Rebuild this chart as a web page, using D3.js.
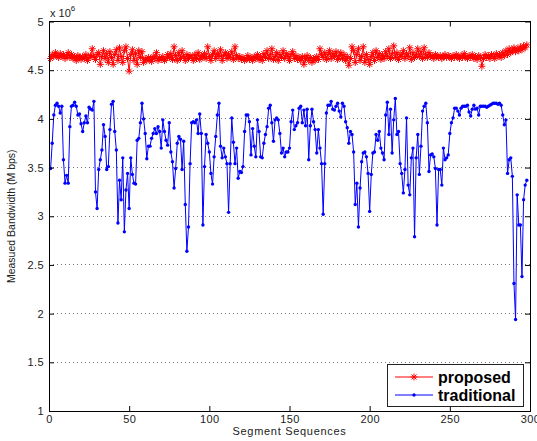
<!DOCTYPE html>
<html>
<head>
<meta charset="utf-8">
<script src="https://cdn.jsdelivr.net/npm/d3@7"></script>
<style>
  body { margin: 0; background: #fff; }
  text { font-family: "Liberation Sans", Arial, sans-serif; }
</style>
</head>
<body>
<div id="chart"></div>
<script>
// values, in units of 10^6 bps, segment 1..298
var proposed = [
  4.62, 4.66, 4.64, 4.68, 4.65, 4.63, 4.67, 4.64, 4.66, 4.62,
  4.65, 4.68, 4.63, 4.66, 4.62, 4.64, 4.60, 4.65, 4.63, 4.61,
  4.64, 4.62, 4.66, 4.60, 4.63, 4.65, 4.72, 4.64, 4.61, 4.66,
  4.68, 4.56, 4.64, 4.70, 4.62, 4.67, 4.58, 4.69, 4.63, 4.56,
  4.66, 4.71, 4.60, 4.73, 4.64, 4.58, 4.70, 4.74, 4.62, 4.49,
  4.66, 4.71, 4.60, 4.67, 4.56, 4.70, 4.63, 4.69, 4.58, 4.62,
  4.60, 4.63, 4.61, 4.59, 4.64, 4.62, 4.68, 4.60, 4.63, 4.61,
  4.64, 4.60, 4.62, 4.66, 4.63, 4.67, 4.61, 4.74, 4.65, 4.60,
  4.68, 4.62, 4.70, 4.64, 4.60, 4.66, 4.62, 4.65, 4.63, 4.60,
  4.66, 4.62, 4.68, 4.61, 4.65, 4.63, 4.67, 4.62, 4.74, 4.64,
  4.60, 4.66, 4.70, 4.62, 4.67, 4.64, 4.71, 4.60, 4.65, 4.68,
  4.62, 4.66, 4.63, 4.69, 4.61, 4.74, 4.65, 4.62, 4.64, 4.61,
  4.63, 4.60, 4.62, 4.65, 4.61, 4.63, 4.60, 4.64, 4.62, 4.66,
  4.61, 4.64, 4.60, 4.67, 4.63, 4.70, 4.62, 4.66, 4.72, 4.61,
  4.64, 4.68, 4.60, 4.66, 4.63, 4.70, 4.62, 4.67, 4.64, 4.60,
  4.66, 4.69, 4.62, 4.65, 4.61, 4.63, 4.60, 4.64, 4.56, 4.62,
  4.65, 4.60, 4.63, 4.58, 4.62, 4.60, 4.64, 4.61, 4.72, 4.66,
  4.63, 4.68, 4.61, 4.66, 4.70, 4.62, 4.67, 4.64, 4.69, 4.61,
  4.65, 4.68, 4.62, 4.66, 4.60, 4.64, 4.55, 4.62, 4.74, 4.70,
  4.58, 4.66, 4.72, 4.60, 4.64, 4.74, 4.58, 4.66, 4.61, 4.56,
  4.64, 4.68, 4.60, 4.70, 4.63, 4.67, 4.61, 4.65, 4.62, 4.69,
  4.64, 4.72, 4.62, 4.67, 4.75, 4.63, 4.68, 4.61, 4.66, 4.64,
  4.70, 4.62, 4.67, 4.64, 4.73, 4.61, 4.68, 4.63, 4.66, 4.72,
  4.64, 4.69, 4.62, 4.73, 4.66, 4.63, 4.68, 4.64, 4.65, 4.62,
  4.66, 4.64, 4.63, 4.65, 4.62, 4.64, 4.66, 4.63, 4.65, 4.64,
  4.62, 4.65, 4.63, 4.66, 4.64, 4.62, 4.65, 4.63, 4.67, 4.64,
  4.62, 4.65, 4.63, 4.66, 4.62, 4.64, 4.61, 4.65, 4.63, 4.54,
  4.62, 4.66, 4.63, 4.65, 4.62, 4.66, 4.64, 4.62, 4.67, 4.64,
  4.66, 4.63, 4.68, 4.65, 4.70, 4.66, 4.72, 4.68, 4.70, 4.73,
  4.69, 4.72, 4.70, 4.74, 4.71, 4.75, 4.73, 4.76
];

var traditional = [
  3.49, 3.75, 4.04, 4.14, 4.16, 4.13, 4.06, 4.13, 3.58, 3.34,
  3.42, 3.34, 3.92, 4.13, 4.14, 4.17, 4.13, 4.04, 4.05, 3.95,
  3.87, 3.96, 4.03, 3.96, 4.12, 4.10, 4.09, 4.18, 3.25, 3.08,
  3.48, 3.58, 3.68, 3.94, 3.82, 3.48, 3.51, 3.89, 4.15, 4.18,
  3.87, 3.68, 2.93, 3.37, 3.17, 3.60, 2.84, 3.27, 3.44, 3.08,
  3.60, 3.43, 3.34, 3.33, 3.78, 3.80, 3.96, 4.16, 4.00, 3.85,
  3.59, 3.72, 3.72, 3.80, 3.85, 3.90, 3.85, 3.92, 3.87, 3.70,
  3.99, 3.87, 3.78, 3.73, 3.96, 3.66, 3.56, 3.29, 3.49, 3.75,
  3.82, 3.79, 3.48, 3.77, 3.12, 2.64, 2.89, 3.54, 3.96, 3.97,
  3.96, 3.99, 3.85, 4.05, 3.85, 2.91, 3.51, 3.84, 3.75, 3.66,
  3.44, 3.33, 3.61, 3.82, 4.04, 4.16, 3.72, 3.60, 3.70, 3.61,
  3.54, 3.04, 3.54, 4.01, 3.76, 3.54, 3.70, 3.39, 3.46, 3.45,
  3.51, 3.87, 4.04, 4.04, 3.97, 3.63, 3.90, 3.72, 3.61, 3.99,
  3.87, 3.61, 3.60, 3.75, 3.84, 3.92, 4.11, 4.14, 3.96, 3.77,
  3.99, 4.01, 3.99, 3.85, 3.65, 3.70, 3.61, 3.66, 3.66, 3.70,
  3.97, 4.09, 3.89, 3.93, 3.96, 4.11, 4.13, 3.96, 4.09, 3.93,
  4.10, 3.58, 3.93, 4.10, 3.97, 3.89, 3.65, 3.89, 3.70, 3.54,
  3.02, 3.54, 4.06, 4.14, 4.14, 4.18, 4.10, 4.09, 4.13, 4.16,
  4.08, 4.02, 4.16, 4.13, 3.97, 3.91, 3.75, 3.87, 3.84, 3.66,
  3.12, 3.34, 2.89, 3.29, 3.56, 3.65, 3.66, 3.61, 3.44, 3.05,
  3.43, 3.65, 3.66, 3.84, 3.78, 3.87, 3.70, 3.65, 3.58, 4.04,
  4.17, 3.84, 4.10, 3.65, 3.99, 4.21, 3.84, 3.87, 3.54, 3.44,
  3.24, 3.48, 4.01, 3.32, 3.22, 3.60, 3.70, 2.79, 3.60, 3.84,
  3.43, 3.72, 4.08, 4.13, 4.16, 3.96, 3.46, 3.63, 3.64, 3.61,
  3.49, 2.91, 3.48, 3.48, 3.32, 3.70, 3.58, 3.60, 3.63, 3.85,
  3.96, 4.01, 4.11, 4.11, 4.08, 4.04, 4.11, 4.13, 4.13, 4.13,
  4.14, 4.07, 4.03, 4.10, 4.14, 4.10, 4.11, 4.04, 4.13, 4.13,
  4.13, 4.13, 4.12, 4.13, 4.14, 4.15, 4.16, 4.16, 4.16, 4.15,
  4.16, 4.14, 4.04, 3.94, 3.99, 3.44, 3.58, 3.60, 3.41, 2.31,
  1.94, 3.22, 2.91, 2.91, 2.38, 3.17, 3.32, 3.37
];

var xTicks = [0, 50, 100, 150, 200, 250, 300];
var yTicks = [1, 1.5, 2, 2.5, 3, 3.5, 4, 4.5, 5];
var seriesNames = ['proposed', 'traditional'];
var seriesColors = ['#ff0000', '#0000ff'];

var width = 537, height = 441;
var margin = {top: 21.5, right: 7, bottom: 30, left: 49};

var svg = d3.select('#chart').append('svg')
    .attr('width', width)
    .attr('height', height);

var x = d3.scaleLinear().domain([0, 300]).range([margin.left, width - margin.right]);
var y = d3.scaleLinear().domain([1, 5]).range([height - margin.bottom, margin.top]);

// dotted horizontal grid (matlab "grid" look, y only)
svg.append('g').selectAll('line')
    .data(yTicks.slice(1, -1))
    .enter().append('line')
    .attr('x1', x(0)).attr('x2', x(300))
    .attr('y1', d => y(d)).attr('y2', d => y(d))
    .attr('stroke', '#7a7a7a')
    .attr('stroke-width', 1)
    .attr('stroke-dasharray', '1,3')
    .attr('shape-rendering', 'crispEdges');

var line = d3.line()
    .x((d, i) => x(i + 1))
    .y(d => y(d));

// proposed : red line with '*' markers
svg.append('path')
    .datum(proposed)
    .attr('d', line)
    .attr('fill', 'none')
    .attr('stroke', seriesColors[0])
    .attr('stroke-width', 1);

var star = 'M-3.5,0H3.5M0,-3.5V3.5M-2.5,-2.5L2.5,2.5M-2.5,2.5L2.5,-2.5';
svg.append('g').selectAll('path')
    .data(proposed)
    .enter().append('path')
    .attr('transform', (d, i) => 'translate(' + x(i + 1) + ',' + y(d) + ')')
    .attr('d', star)
    .attr('stroke', seriesColors[0])
    .attr('stroke-width', 1)
    .attr('fill', 'none');

// traditional : blue line with '.' markers
svg.append('path')
    .datum(traditional)
    .attr('d', line)
    .attr('fill', 'none')
    .attr('stroke', seriesColors[1])
    .attr('stroke-width', 1);

svg.append('g').selectAll('circle')
    .data(traditional)
    .enter().append('circle')
    .attr('cx', (d, i) => x(i + 1))
    .attr('cy', d => y(d))
    .attr('r', 1.7)
    .attr('fill', seriesColors[1]);

// axes, ticks pointing inward on all four sides
function styleAxis(g) {
    g.select('.domain').remove();
    g.selectAll('line').attr('stroke', '#000');
    g.selectAll('text')
        .attr('fill', '#222')
        .style('font-size', '11px')
        .style('letter-spacing', '0.4px');
}

svg.append('g')
    .attr('transform', 'translate(0,' + y(1) + ')')
    .call(d3.axisBottom(x).tickValues(xTicks).tickSizeInner(-5).tickSizeOuter(0).tickPadding(4))
    .call(styleAxis);

svg.append('g')
    .attr('transform', 'translate(0,' + y(5) + ')')
    .call(d3.axisTop(x).tickValues(xTicks).tickSizeInner(-5).tickSizeOuter(0).tickFormat(''))
    .call(styleAxis);

svg.append('g')
    .attr('transform', 'translate(' + x(0) + ',0)')
    .call(d3.axisLeft(y).tickValues(yTicks).tickSizeInner(-5).tickSizeOuter(0).tickPadding(5)
        .tickFormat(d3.format('')))
    .call(styleAxis);

svg.append('g')
    .attr('transform', 'translate(' + x(300) + ',0)')
    .call(d3.axisRight(y).tickValues(yTicks).tickSizeInner(-5).tickSizeOuter(0).tickFormat(''))
    .call(styleAxis);

// box
svg.append('rect')
    .attr('x', x(0)).attr('y', y(5))
    .attr('width', x(300) - x(0))
    .attr('height', y(1) - y(5))
    .attr('fill', 'none')
    .attr('stroke', '#000')
    .attr('stroke-width', 1)
    .attr('shape-rendering', 'crispEdges');

// exponent label
var expo = svg.append('text')
    .attr('x', x(0) + 1)
    .attr('y', y(5) - 4.5)
    .attr('fill', '#222')
    .style('font-size', '11px');
expo.append('tspan').text('x 10');
expo.append('tspan').attr('dy', -6).style('font-size', '8px').text('6');

// axis titles
svg.append('text')
    .attr('x', (x(0) + x(300)) / 2)
    .attr('y', height - 6)
    .attr('text-anchor', 'middle')
    .attr('fill', '#222')
    .style('font-size', '11px')
    .style('letter-spacing', '0.7px')
    .text('Segment Sequences');

svg.append('text')
    .attr('transform', 'translate(15,' + ((y(1) + y(5)) / 2) + ') rotate(-90)')
    .attr('text-anchor', 'middle')
    .attr('fill', '#222')
    .style('font-size', '10.5px')
    .text('Measued Bandwidth (M bps)');

// legend
var legW = 136, legH = 42;
var legX = x(300) - 7 - legW, legY = y(1) - 5 - legH;
var leg = svg.append('g').attr('transform', 'translate(' + legX + ',' + legY + ')');
leg.append('rect')
    .attr('width', legW).attr('height', legH)
    .attr('fill', '#fff')
    .attr('stroke', '#222')
    .attr('shape-rendering', 'crispEdges');

var items = leg.selectAll('g.item')
    .data(seriesNames)
    .enter().append('g')
    .attr('class', 'item')
    .attr('transform', (d, i) => 'translate(0,' + (13 + i * 18) + ')');

items.append('line')
    .attr('x1', 8).attr('x2', 46)
    .attr('stroke', (d, i) => seriesColors[i])
    .attr('stroke-width', 1);

items.filter((d, i) => i === 0).append('path')
    .attr('transform', 'translate(27,0)')
    .attr('d', star)
    .attr('stroke', seriesColors[0])
    .attr('fill', 'none');

items.filter((d, i) => i === 1).append('circle')
    .attr('cx', 27).attr('r', 1.7)
    .attr('fill', seriesColors[1]);

items.append('text')
    .attr('x', 51)
    .attr('dy', '0.35em')
    .attr('fill', '#000')
    .style('font-size', '16px')
    .style('font-weight', 'bold')
    .text(d => d);
</script>
</body>
</html>
